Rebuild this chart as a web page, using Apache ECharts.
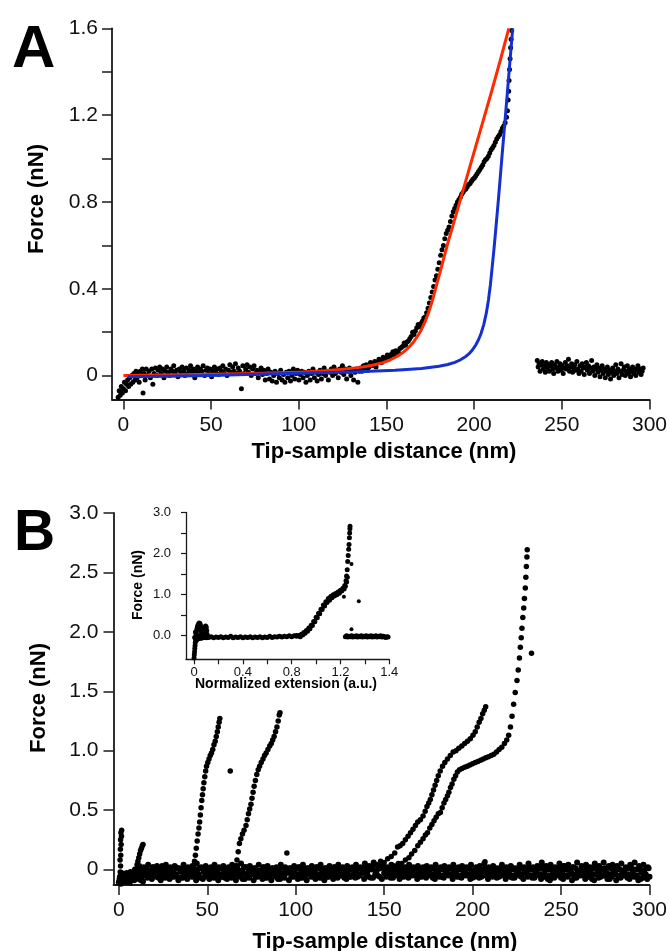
<!DOCTYPE html>
<html><head><meta charset="utf-8">
<script src="https://cdn.jsdelivr.net/npm/echarts@6/dist/echarts.min.js"></script>
<style>html,body{margin:0;padding:0;background:#fff}#c{width:670px;height:951px}</style>
</head><body><div id="c"></div>
<script>
// ---------- Panel A data ----------
const aXTickValues = [0, 50, 100, 150, 200, 250, 300];
const aXTickLabels = ['0', '50', '100', '150', '200', '250', '300'];
const aYTickValues = [0, 0.2, 0.4, 0.6, 0.8, 1.0, 1.2, 1.4, 1.6];
const aYLabelValues = [0, 0.4, 0.8, 1.2, 1.6];
const aYLabelTexts = ['0', '0.4', '0.8', '1.2', '1.6'];

const aBaseline = [[-3,-0.10],[-2.4,-0.07],[-1.8,-0.09],[-1.2,-0.05],[-0.6,-0.08],[0,-0.06],[0.6,-0.03],[1.2,-0.07],[1.8,-0.04],[2.4,-0.02],[3,-0.05],[3.6,-0.01],[4.2,-0.04],[4.8,0.0],[5.4,-0.03],[6,0.01],[6.6,-0.02],[7.2,0.02],[7.8,-0.01],[8.4,0.01],[9,-0.03],[9.6,0.02],[10.2,0.0],[10.8,0.03],[11.2,-0.08],[11.8,0.01],[12.4,-0.02],[13,0.03],[13.8,0.0],[14.6,0.02],[15.4,-0.01],[16.2,0.03],[16.8,-0.04],[17.5,0.01],[18.3,0.035],[19.1,0.0],[19.9,0.025],[20.7,0.04],[21.5,0.01],[22.3,0.03],[23.1,-0.01],[23.9,0.02],[24.7,0.04],[25.5,0.015],[26.3,0.0],[27.1,0.03],[27.9,0.02],[28.7,0.045],[29.5,0.01],[30.3,0.025],[31.1,-0.005],[31.9,0.03],[32.7,0.015],[33.5,0.04],[34.3,0.02],[35.1,0.0],[35.9,0.035],[36.7,0.01],[37.5,0.025],[38.3,0.045],[39.1,0.015],[39.9,0.03],[40.7,-0.01],[41.5,0.02],[42.3,0.04],[43.1,0.01],[43.9,0.03],[44.7,0.02],[45.5,0.045],[46.3,0.0],[47.1,0.025],[47.9,0.035],[48.7,0.01],[49.5,0.03],[50.3,-0.005],[51.1,0.02],[51.9,0.04],[52.7,0.015],[53.5,0.03],[54.3,0.005],[55.1,0.035],[55.9,0.02],[56.7,0.045],[57.5,0.01],[58.3,0.03],[59.1,0.0],[59.9,0.025],[60.7,0.05],[61.5,0.015],[62.3,0.04],[63.1,0.02],[63.9,0.055],[64.7,0.01],[65.5,0.035],[66.3,0.02],[67.3,-0.06],[68.1,0.045],[68.9,0.01],[69.7,0.03],[70.5,0.05],[71.3,0.015],[72.1,0.04],[72.9,0.0],[73.7,0.03],[74.5,0.045],[75.3,0.01],[76.1,0.025],[76.9,-0.01],[77.7,0.02],[78.5,0.035],[79.3,0.005],[80.1,0.025],[80.9,-0.02],[81.7,0.01],[82.5,0.03],[83.3,-0.015],[84.1,0.015],[84.9,-0.025],[85.7,0.0],[86.5,0.02],[87.3,-0.03],[88.1,0.01],[88.9,-0.01],[89.7,0.025],[90.5,-0.02],[91.3,0.005],[92.1,-0.03],[92.9,0.015],[93.7,-0.01],[94.5,0.02],[95.3,-0.025],[96.1,0.0],[96.9,0.03],[97.7,-0.015],[98.5,0.01],[99.3,0.025],[100.1,-0.02],[100.9,0.005],[101.7,0.02],[102.5,-0.01],[103.3,0.015],[104.1,-0.03],[104.9,0.0],[105.7,0.02],[106.5,-0.02],[107.3,0.01],[108.1,0.03],[108.9,-0.01],[109.7,0.015],[110.5,-0.025],[111.3,0.005],[112.1,0.025],[112.9,-0.015],[113.7,0.01],[114.5,0.035],[115.3,0.0],[116.1,0.02],[116.9,-0.02],[117.7,0.015],[118.5,0.03],[119.3,0.0],[120.1,0.04],[120.9,0.01],[121.7,0.025],[122.5,-0.01],[123.3,0.03],[124.1,0.015],[124.9,0.045],[125.7,0.005],[126.5,0.03],[127.3,-0.015],[128.1,0.02],[128.9,0.035],[129.7,0.0],[130.5,0.025],[131.3,-0.02],[132.1,0.015],[132.9,0.03],[133.7,-0.03],[134.5,0.02]];

const aRiseRow1 = [[135.3,0.035],[136.9,0.045],[138.5,0.05],[140.1,0.04],[141.7,0.05],[143.3,0.065],[144.9,0.06],[146.5,0.07],[148.1,0.085],[149.7,0.08],[151.3,0.09],[152.9,0.1],[154.5,0.095],[156.1,0.11],[157.7,0.125],[159.3,0.135],[160.9,0.14],[162.5,0.16],[164.1,0.18],[165.7,0.19],[167.3,0.22],[168.9,0.225],[170.5,0.25],[172.1,0.27],[173.7,0.31],[175.3,0.36],[176.9,0.41],[178.5,0.46],[180.1,0.52],[181.7,0.58],[183.3,0.63],[184.9,0.67],[186.5,0.71],[188.1,0.755],[189.7,0.785],[191.3,0.81],[192.9,0.835],[194.5,0.855],[196.1,0.87],[197.7,0.885],[199.3,0.905],[200.9,0.92],[202.5,0.94],[204.1,0.96],[205.7,0.985],[207.3,1.0],[208.9,1.025],[210.5,1.05],[212.1,1.075],[213.7,1.1],[215.3,1.125],[216.9,1.15],[218.5,1.19],[219.4,1.27],[219.9,1.36],[220.5,1.46],[221.1,1.55]];
const aRiseRow2 = [[136.1,0.02],[137.7,0.03],[139.3,0.025],[140.9,0.06],[142.5,0.045],[144.1,0.04],[145.7,0.075],[147.3,0.06],[148.9,0.07],[150.5,0.095],[152.1,0.085],[153.7,0.11],[155.3,0.115],[156.9,0.105],[158.5,0.13],[160.1,0.15],[161.7,0.155],[163.3,0.17],[164.9,0.2],[166.5,0.205],[168.1,0.235],[169.7,0.24],[171.3,0.265],[172.9,0.29],[174.5,0.335],[176.1,0.385],[177.7,0.44],[179.3,0.49],[180.9,0.555],[182.5,0.6],[184.1,0.655],[185.7,0.685],[187.3,0.735],[188.9,0.77],[190.5,0.8],[192.1,0.82],[193.7,0.845],[195.3,0.86],[196.9,0.88],[198.5,0.895],[200.1,0.91],[201.7,0.93],[203.3,0.95],[204.9,0.97],[206.5,0.995],[208.1,1.01],[209.7,1.04],[211.3,1.06],[212.9,1.09],[214.5,1.11],[216.1,1.14],[217.7,1.165],[219.0,1.22],[219.7,1.31],[220.2,1.41],[220.8,1.51],[221.4,1.59]];

const aDetached = [[236,0.07],[236.5,0.04],[237,0.055],[237.6,0.02],[238.2,0.05],[238.8,0.065],[239.4,0.03],[240,0.045],[240.6,0.015],[241.2,0.06],[241.8,0.035],[242.4,0.05],[243,0.02],[243.6,0.045],[244.2,0.06],[244.8,0.03],[245.4,0.01],[246,0.05],[246.6,0.035],[247.2,0.065],[247.8,0.02],[248.4,0.04],[249,0.055],[249.6,0.025],[250.2,0.045],[250.8,0.01],[251.4,0.035],[252,0.06],[252.6,0.03],[253.2,0.045],[253.8,0.075],[254.4,0.02],[255,0.04],[255.6,0.055],[256.2,0.015],[256.8,0.035],[257.4,0.05],[258,0.025],[258.6,0.065],[259.2,0.03],[259.8,0.01],[260.4,0.045],[261,0.02],[261.6,0.055],[262.2,0.035],[262.8,0.005],[263.4,0.04],[264,0.06],[264.6,0.025],[265.2,0.045],[265.8,0.01],[266.4,0.035],[267,0.07],[267.6,0.02],[268.2,0.04],[268.8,0.0],[269.4,0.03],[270,0.05],[270.6,0.015],[271.2,0.035],[271.8,-0.005],[272.4,0.025],[273,0.045],[273.6,0.01],[274.2,0.03],[274.8,-0.01],[275.4,0.02],[276,0.04],[276.6,0.005],[277.2,0.025],[277.8,-0.015],[278.4,0.015],[279,0.035],[279.6,0.0],[280.2,0.02],[280.8,0.05],[281.4,0.01],[282,0.03],[282.6,-0.01],[283.2,0.02],[283.8,0.055],[284.4,0.005],[285,0.025],[285.6,0.04],[286.2,0.0],[286.8,0.02],[287.4,0.045],[288,0.01],[288.6,0.03],[289.2,-0.005],[289.8,0.02],[290.4,0.04],[291,0.01],[291.6,0.03],[292.2,0.0],[292.8,0.025],[293.4,0.045],[294,0.015],[294.6,0.03],[295.2,0.005],[295.8,0.02],[296.4,0.035]];

const aRedFit = [[0,0.0],[25,0.003],[50,0.006],[75,0.01],[100,0.016],[115,0.022],[125,0.029],[135,0.038],[142,0.048],[148,0.06],[152,0.072],[156,0.088],[159,0.104],[162,0.124],[165,0.15],[168,0.185],[170,0.213],[172,0.248],[174,0.29],[176,0.34],[178,0.4],[180,0.46],[182,0.52],[185,0.61],[190,0.75],[195,0.89],[200,1.03],[205,1.17],[210,1.31],[215,1.455],[219.8,1.6]];
const aBlueFit = [[2.5,-0.005],[25,-0.003],[50,0.001],[75,0.006],[100,0.011],[130,0.017],[155,0.025],[170,0.033],[180,0.043],[185,0.051],[189,0.061],[192,0.072],[195,0.087],[197,0.1],[199,0.118],[201,0.142],[202.5,0.165],[204,0.195],[205.5,0.235],[207,0.29],[208.2,0.35],[209.3,0.42],[210.3,0.5],[211.3,0.58],[212.3,0.67],[213.3,0.76],[214.3,0.855],[216,1.02],[218,1.21],[220,1.405],[222,1.6]];

// ---------- Panel B data ----------
const bXTickValues = [0, 50, 100, 150, 200, 250, 300];
const bXTickLabels = ['0', '50', '100', '150', '200', '250', '300'];
const bYTickValues = [0, 0.5, 1.0, 1.5, 2.0, 2.5, 3.0];
const bYTickLabels = ['0', '0.5', '1.0', '1.5', '2.0', '2.5', '3.0'];

const bBaseLow = [[0,-0.11],[2.5,-0.09],[5,-0.1],[7.5,-0.08],[10,-0.07],[12.5,-0.09],[15,-0.05],[17.5,-0.06],[20,-0.04],[22.5,-0.07],[25,-0.05],[27.5,-0.03],[30,-0.06],[32.5,-0.04],[35,-0.07],[37.5,-0.05],[40,-0.03],[42.5,-0.06],[45,-0.04],[47.5,-0.08],[50,-0.05],[52.5,-0.03],[55,-0.06],[57.5,-0.04],[60,-0.07],[62.5,-0.05],[65,-0.06],[67.5,-0.03],[70,-0.08],[72.5,-0.05],[75,-0.04],[77.5,-0.06],[80,-0.03],[82.5,-0.07],[85,-0.05],[87.5,-0.04],[90,-0.08],[92.5,-0.05],[95,-0.03],[97.5,-0.06],[100,-0.04],[102.5,-0.07],[105,-0.05],[107.5,-0.03],[110,-0.06],[112.5,-0.04],[115,-0.07],[117.5,-0.05],[120,-0.04],[122.5,-0.06],[125,-0.03],[127.5,-0.07],[130,-0.05],[132.5,-0.04],[135,-0.06],[137.5,-0.03],[140,-0.05],[142.5,-0.07],[145,-0.04],[147.5,-0.06],[150,-0.03],[152.5,-0.05],[155,-0.07],[157.5,-0.04],[160,-0.06],[162.5,-0.03],[165,-0.05],[167.5,-0.04],[170,-0.06],[172.5,-0.03],[175,-0.05],[177.5,-0.07],[180,-0.04],[182.5,-0.06],[185,-0.03],[187.5,-0.05],[190,-0.04],[192.5,-0.06],[195,-0.03],[197.5,-0.05],[200,-0.07],[202.5,-0.04],[205,-0.06],[207.5,-0.03],[210,-0.05],[212.5,-0.04],[215,-0.06],[217.5,-0.03],[220,-0.05],[222.5,-0.07],[225,-0.04],[227.5,-0.06],[230,-0.03],[232.5,-0.05],[235,-0.07],[237.5,-0.04],[240,-0.06],[242.5,-0.08],[245,-0.05],[247.5,-0.03],[250,-0.07],[252.5,-0.05],[255,-0.04],[257.5,-0.07],[260,-0.05],[262.5,-0.03],[265,-0.06],[267.5,-0.08],[270,-0.04],[272.5,-0.06],[275,-0.05],[277.5,-0.08],[280,-0.04],[282.5,-0.06],[285,-0.05],[287.5,-0.07],[290,-0.04],[292.5,-0.06],[295,-0.08],[297.5,-0.05],[300,-0.06]];
const bBaseMid = [[0.8,-0.06],[3.3,-0.04],[5.8,-0.07],[8.3,-0.03],[10.8,-0.01],[13.3,-0.02],[15.8,0.0],[18.3,-0.02],[20.8,0.01],[23.3,-0.01],[25.8,-0.03],[28.3,0.0],[30.8,-0.02],[33.3,0.01],[35.8,-0.01],[38.3,-0.03],[40.8,0.0],[43.3,-0.02],[45.8,0.01],[48.3,-0.01],[50.8,-0.02],[53.3,0.0],[55.8,-0.03],[58.3,0.01],[60.8,-0.01],[63.3,-0.02],[65.8,0.0],[68.3,-0.01],[70.8,0.02],[73.3,-0.02],[75.8,0.0],[78.3,-0.03],[80.8,-0.01],[83.3,0.01],[85.8,-0.02],[88.3,0.0],[90.8,-0.01],[93.3,-0.03],[95.8,0.0],[98.3,-0.02],[100.8,0.01],[103.3,-0.01],[105.8,-0.03],[108.3,0.0],[110.8,-0.02],[113.3,0.01],[115.8,-0.01],[118.3,-0.02],[120.8,0.0],[123.3,-0.01],[125.8,0.01],[128.3,-0.02],[130.8,0.0],[133.3,-0.01],[135.8,0.01],[138.3,-0.02],[140.8,0.0],[143.3,0.01],[145.8,-0.01],[148.3,0.02],[150.8,-0.01],[153.3,0.0],[155.8,-0.02],[158.3,0.01],[160.8,-0.01],[163.3,0.0],[165.8,-0.02],[168.3,0.01],[170.8,-0.01],[173.3,0.0],[175.8,-0.02],[178.3,0.01],[180.8,-0.01],[183.3,0.0],[185.8,-0.02],[188.3,0.01],[190.8,-0.01],[193.3,0.0],[195.8,-0.02],[198.3,0.01],[200.8,-0.01],[203.3,0.0],[205.8,-0.02],[208.3,0.01],[210.8,-0.01],[213.3,0.0],[215.8,-0.02],[218.3,0.01],[220.8,-0.01],[223.3,0.0],[225.8,-0.02],[228.3,0.01],[230.8,-0.01],[233.3,0.0],[235.8,-0.03],[238.3,0.01],[240.8,-0.01],[243.3,0.0],[245.8,-0.02],[248.3,0.01],[250.8,-0.01],[253.3,0.0],[255.8,-0.03],[258.3,0.01],[260.8,-0.02],[263.3,0.0],[265.8,-0.01],[268.3,0.01],[270.8,-0.02],[273.3,0.0],[275.8,-0.03],[278.3,0.01],[280.8,-0.01],[283.3,0.0],[285.8,-0.02],[288.3,0.01],[290.8,-0.01],[293.3,0.0],[295.8,-0.03],[298.3,0.01]];
const bBaseHigh = [[1.6,-0.03],[4.1,-0.05],[6.6,-0.02],[9.1,0.0],[11.6,0.03],[14.1,0.02],[16.6,0.04],[19.1,0.02],[21.6,0.03],[24.1,0.01],[26.6,0.04],[29.1,0.02],[31.6,0.03],[34.1,0.01],[36.6,0.04],[39.1,0.02],[41.6,0.03],[44.1,0.05],[46.6,0.02],[49.1,0.03],[51.6,0.01],[54.1,0.04],[56.6,0.02],[59.1,0.03],[61.6,0.01],[64.1,0.04],[66.6,0.03],[69.1,0.05],[71.6,0.02],[74.1,0.03],[76.6,0.01],[79.1,0.04],[81.6,0.02],[84.1,0.03],[86.6,0.01],[89.1,0.02],[91.6,0.04],[94.1,0.02],[96.6,0.01],[99.1,0.03],[101.6,0.02],[104.1,0.04],[106.6,0.01],[109.1,0.03],[111.6,0.02],[114.1,0.04],[116.6,0.01],[119.1,0.03],[121.6,0.02],[124.1,0.04],[126.6,0.02],[129.1,0.03],[131.6,0.01],[134.1,0.04],[136.6,0.02],[139.1,0.05],[141.6,0.03],[144.1,0.06],[146.6,0.03],[149.1,0.05],[151.6,0.02],[154.1,0.04],[156.6,0.02],[159.1,0.03],[161.6,0.01],[164.1,0.04],[166.6,0.02],[169.1,0.03],[171.6,0.01],[174.1,0.03],[176.6,0.02],[179.1,0.04],[181.6,0.01],[184.1,0.03],[186.6,0.02],[189.1,0.04],[191.6,0.01],[194.1,0.03],[196.6,0.02],[199.1,0.04],[201.6,0.01],[204.1,0.03],[206.6,0.05],[209.1,0.02],[211.6,0.03],[214.1,0.01],[216.6,0.04],[219.1,0.02],[221.6,0.03],[224.1,0.01],[226.6,0.04],[229.1,0.02],[231.6,0.05],[234.1,0.02],[236.6,0.03],[239.1,0.06],[241.6,0.03],[244.1,0.04],[246.6,0.02],[249.1,0.05],[251.6,0.03],[254.1,0.04],[256.6,0.02],[259.1,0.06],[261.6,0.03],[264.1,0.04],[266.6,0.02],[269.1,0.05],[271.6,0.03],[274.1,0.06],[276.6,0.02],[279.1,0.04],[281.6,0.03],[284.1,0.05],[286.6,0.02],[289.1,0.04],[291.6,0.06],[294.1,0.03],[296.6,0.04],[299.1,0.02]];
const bBaseLower = [[1.2,-0.12],[3.7,-0.1],[6.2,-0.11],[8.7,-0.09],[11.2,-0.08],[13.7,-0.1],[16.2,-0.07],[18.7,-0.08],[21.2,-0.06],[23.7,-0.09],[26.2,-0.07],[28.7,-0.08],[31.2,-0.06],[33.7,-0.09],[36.2,-0.07],[38.7,-0.08],[41.2,-0.06],[43.7,-0.09],[46.2,-0.07],[48.7,-0.06],[51.2,-0.08],[53.7,-0.07],[56.2,-0.09],[58.7,-0.06],[61.2,-0.08],[63.7,-0.07],[66.2,-0.09],[68.7,-0.06],[71.2,-0.08],[73.7,-0.07],[76.2,-0.09],[78.7,-0.06],[81.2,-0.08],[83.7,-0.07],[86.2,-0.09],[88.7,-0.06],[91.2,-0.08],[93.7,-0.07],[96.2,-0.09],[98.7,-0.06],[101.2,-0.08],[103.7,-0.07],[106.2,-0.09],[108.7,-0.06],[111.2,-0.08],[113.7,-0.07],[116.2,-0.09],[118.7,-0.06],[121.2,-0.08],[123.7,-0.07],[126.2,-0.05],[128.7,-0.08],[131.2,-0.06],[133.7,-0.07],[136.2,-0.05],[138.7,-0.08],[141.2,-0.06],[143.7,-0.07],[146.2,-0.05],[148.7,-0.08],[151.2,-0.06],[153.7,-0.07],[156.2,-0.05],[158.7,-0.08],[161.2,-0.06],[163.7,-0.07],[166.2,-0.05],[168.7,-0.08],[171.2,-0.06],[173.7,-0.07],[176.2,-0.05],[178.7,-0.08],[181.2,-0.06],[183.7,-0.07],[186.2,-0.05],[188.7,-0.08],[191.2,-0.06],[193.7,-0.07],[196.2,-0.05],[198.7,-0.08],[201.2,-0.06],[203.7,-0.07],[206.2,-0.05],[208.7,-0.08],[211.2,-0.06],[213.7,-0.07],[216.2,-0.05],[218.7,-0.08],[221.2,-0.06],[223.7,-0.07],[226.2,-0.05],[228.7,-0.08],[231.2,-0.06],[233.7,-0.07],[236.2,-0.05],[238.7,-0.08],[241.2,-0.06],[243.7,-0.09],[246.2,-0.07],[248.7,-0.05],[251.2,-0.08],[253.7,-0.06],[256.2,-0.09],[258.7,-0.07],[261.2,-0.05],[263.7,-0.08],[266.2,-0.06],[268.7,-0.09],[271.2,-0.07],[273.7,-0.05],[276.2,-0.08],[278.7,-0.06],[281.2,-0.09],[283.7,-0.07],[286.2,-0.05],[288.7,-0.08],[291.2,-0.06],[293.7,-0.09],[296.2,-0.07],[298.7,-0.08]];
const bBaseCentre = [[2,-0.06],[4.5,-0.03],[7,-0.05],[9.5,-0.02],[12,0.0],[14.5,0.01],[17,-0.01],[19.5,0.02],[22,0.0],[24.5,0.03],[27,0.01],[29.5,-0.01],[32,0.02],[34.5,0.0],[37,0.01],[39.5,-0.01],[42,0.02],[44.5,0.0],[47,0.01],[49.5,-0.01],[52,0.02],[54.5,0.0],[57,0.01],[59.5,-0.01],[62,0.02],[64.5,0.0],[67,0.01],[69.5,-0.01],[72,0.02],[74.5,0.0],[77,0.01],[79.5,-0.01],[82,0.02],[84.5,0.0],[87,0.01],[89.5,-0.01],[92,0.02],[94.5,0.0],[97,0.01],[99.5,-0.01],[102,0.02],[104.5,0.0],[107,0.01],[109.5,-0.01],[112,0.02],[114.5,0.0],[117,0.01],[119.5,-0.01],[122,0.02],[124.5,0.0],[127,0.01],[129.5,-0.01],[132,0.02],[134.5,0.0],[137,0.01],[139.5,0.03],[142,0.02],[144.5,0.04],[147,0.01],[149.5,0.03],[152,0.0],[154.5,0.02],[157,0.01],[159.5,-0.01],[162,0.02],[164.5,0.0],[167,0.01],[169.5,-0.01],[172,0.02],[174.5,0.0],[177,0.01],[179.5,-0.01],[182,0.02],[184.5,0.0],[187,0.01],[189.5,-0.01],[192,0.02],[194.5,0.0],[197,0.01],[199.5,-0.01],[202,0.02],[204.5,0.0],[207,0.01],[209.5,-0.01],[212,0.02],[214.5,0.0],[217,0.01],[219.5,-0.01],[222,0.02],[224.5,0.0],[227,0.01],[229.5,-0.01],[232,0.02],[234.5,0.0],[237,0.01],[239.5,0.03],[242,0.0],[244.5,0.02],[247,-0.01],[249.5,0.01],[252,0.03],[254.5,0.0],[257,0.02],[259.5,-0.01],[262,0.01],[264.5,0.03],[267,0.0],[269.5,0.02],[272,-0.01],[274.5,0.01],[277,0.03],[279.5,0.0],[282,0.02],[284.5,-0.01],[287,0.01],[289.5,0.03],[292,0.0],[294.5,0.02],[297,-0.01],[299.5,0.01]];
const bBaseFill = [[0.4,-0.08],[2.9,-0.07],[5.4,-0.09],[7.9,-0.05],[10.4,-0.04],[12.9,-0.06],[15.4,-0.03],[17.9,-0.04],[20.4,-0.02],[22.9,-0.04],[25.4,-0.01],[27.9,-0.05],[30.4,-0.03],[32.9,-0.06],[35.4,-0.02],[37.9,-0.04],[40.4,-0.05],[42.9,-0.03],[45.4,-0.06],[47.9,-0.02],[50.4,-0.04],[52.9,-0.05],[55.4,-0.02],[57.9,-0.06],[60.4,-0.03],[62.9,-0.04],[65.4,-0.02],[67.9,-0.05],[70.4,-0.03],[72.9,-0.06],[75.4,-0.02],[77.9,-0.04],[80.4,-0.05],[82.9,-0.03],[85.4,-0.06],[87.9,-0.02],[90.4,-0.04],[92.9,-0.05],[95.4,-0.02],[97.9,-0.04],[100.4,-0.06],[102.9,-0.03],[105.4,-0.05],[107.9,-0.02],[110.4,-0.04],[112.9,-0.05],[115.4,-0.03],[117.9,-0.06],[120.4,-0.02],[122.9,-0.04],[125.4,-0.05],[127.9,-0.03],[130.4,-0.06],[132.9,-0.02],[135.4,-0.04],[137.9,-0.01],[140.4,-0.03],[142.9,0.0],[145.4,-0.02],[147.9,0.01],[150.4,-0.03],[152.9,-0.01],[155.4,-0.04],[157.9,-0.02],[160.4,-0.03],[162.9,-0.05],[165.4,-0.02],[167.9,-0.04],[170.4,-0.03],[172.9,-0.05],[175.4,-0.02],[177.9,-0.04],[180.4,-0.03],[182.9,-0.05],[185.4,-0.02],[187.9,-0.04],[190.4,-0.03],[192.9,-0.05],[195.4,-0.02],[197.9,-0.04],[200.4,-0.03],[202.9,-0.05],[205.4,-0.02],[207.9,-0.04],[210.4,-0.03],[212.9,-0.05],[215.4,-0.02],[217.9,-0.04],[220.4,-0.03],[222.9,-0.05],[225.4,-0.02],[227.9,-0.04],[230.4,-0.03],[232.9,-0.05],[235.4,-0.02],[237.9,-0.04],[240.4,-0.03],[242.9,-0.05],[245.4,-0.02],[247.9,-0.04],[250.4,-0.03],[252.9,-0.05],[255.4,-0.02],[257.9,-0.04],[260.4,-0.03],[262.9,-0.05],[265.4,-0.02],[267.9,-0.04],[270.4,-0.03],[272.9,-0.05],[275.4,-0.02],[277.9,-0.04],[280.4,-0.03],[282.9,-0.05],[285.4,-0.02],[287.9,-0.04],[290.4,-0.03],[292.9,-0.05],[295.4,-0.02],[297.9,-0.04]];

const bSpike1 = [[0.2,-0.1],[0.5,-0.06],[0.8,-0.02],[1.0,0.03],[0.7,0.08],[1.1,0.12],[0.9,0.17],[1.3,0.21],[1.0,0.25],[1.5,0.28],[1.2,0.31],[1.6,0.33]];
const bSpike2 = [[9.8,0.0],[10.3,0.04],[10.8,0.07],[11.3,0.1],[11.8,0.13],[12.3,0.16],[12.8,0.18],[13.3,0.2],[13.7,0.21]];
const bCurve1 = [[41.5,0.0],[42.2,0.03],[42.8,0.07],[43.3,0.12],[43.8,0.18],[44.3,0.24],[44.8,0.3],[45.3,0.35],[45.7,0.4],[46.1,0.46],[46.5,0.52],[46.9,0.58],[47.3,0.63],[47.7,0.68],[48.1,0.73],[48.6,0.78],[49.1,0.83],[49.6,0.87],[50.3,0.9],[51,0.93],[51.7,0.96],[52.4,0.98],[53.1,1.01],[53.8,1.05],[54.5,1.08],[55.1,1.12],[55.7,1.16],[56.2,1.2],[56.7,1.24],[57.1,1.27]];
const bCurve2 = [[66,0.03],[66.8,0.08],[67.5,0.15],[68.2,0.22],[69,0.26],[69.9,0.3],[70.8,0.33],[71.9,0.37],[72.6,0.42],[73.3,0.47],[74,0.51],[74.7,0.55],[75.3,0.6],[75.9,0.65],[76.5,0.7],[77.2,0.75],[78,0.8],[78.8,0.84],[79.6,0.87],[80.5,0.9],[81.5,0.93],[82.4,0.96],[83.3,0.98],[84.3,1.01],[85.3,1.04],[86.2,1.06],[87,1.09],[87.8,1.12],[88.6,1.16],[89.4,1.2],[90.1,1.25],[90.7,1.3],[91.1,1.32]];
const bCurve3 = [[146,0.04],[148,0.07],[150,0.06],[152,0.09],[154,0.11],[156,0.14],[157.6,0.19],[159,0.2],[160.5,0.22],[162,0.25],[163.5,0.28],[164.9,0.31],[166.3,0.34],[167.7,0.37],[169,0.4],[170.5,0.42],[172,0.45],[173.2,0.49],[174.2,0.53],[175.2,0.56],[176.1,0.59],[177,0.63],[177.9,0.67],[178.8,0.71],[179.7,0.75],[180.6,0.79],[181.7,0.83],[183,0.87],[184.3,0.9],[185.8,0.93],[187.4,0.96],[189,0.99],[190.6,1.0],[192.2,1.02],[193.9,1.04],[195.5,1.06],[197.1,1.08],[198.7,1.1],[200.2,1.13],[201.5,1.16],[202.6,1.2],[203.7,1.24],[204.7,1.27],[205.7,1.31],[206.6,1.34],[207.4,1.37]];
const bCurve4 = [[156,0.03],[158,0.05],[160,0.05],[162,0.08],[164,0.1],[165.5,0.13],[167.3,0.16],[169,0.2],[170.5,0.23],[172,0.26],[173.3,0.29],[174.5,0.31],[175.8,0.35],[177,0.38],[178.2,0.41],[179.4,0.44],[180.6,0.47],[181.8,0.48],[182.8,0.52],[183.8,0.56],[184.8,0.59],[185.8,0.62],[186.6,0.65],[187.5,0.69],[188.4,0.72],[189.4,0.76],[190.4,0.79],[191.4,0.82],[192.6,0.84],[194,0.85],[195.5,0.86],[197,0.87],[198.5,0.88],[200,0.89],[201.5,0.9],[203,0.91],[204.5,0.92],[206,0.93],[207.5,0.94],[209,0.95],[210.5,0.96],[212,0.97],[213.5,0.99],[215,1.01],[216.5,1.03],[218,1.06],[219.3,1.09],[220.4,1.13],[221.4,1.2],[222.3,1.29],[223.2,1.39],[224.1,1.49],[225.1,1.59],[225.8,1.68],[226.5,1.78],[227,1.87],[227.5,1.95],[227.9,2.03],[228.4,2.12],[228.9,2.2],[229.3,2.28],[229.8,2.37],[230.1,2.46],[230.4,2.55],[230.7,2.63],[230.9,2.69]];
const bOutliers = [[63,0.83],[95,0.14],[233.3,1.82],[207,0.065]];

// ---------- Inset data ----------
const iXTickValues = [0, 0.2, 0.4, 0.6, 0.8, 1.0, 1.2, 1.4, 1.6];
const iXLabelValues = [0, 0.4, 0.8, 1.2, 1.6];
const iXLabelTexts = ['0', '0.4', '0.8', '1.2', '1.4'];
const iYTickValues = [0, 0.5, 1.0, 1.5, 2.0, 2.5, 3.0];
const iYLabelValues = [0, 1, 2, 3];
const iYLabelTexts = ['0.0', '1.0', '2.0', '3.0'];

const iSpike = [[0.0,-0.55],[0.002,-0.47],[0.004,-0.4],[0.006,-0.32],[0.008,-0.25],[0.01,-0.18],[0.012,-0.1],[0.014,-0.03],[0.016,0.04],[0.02,0.1],[0.024,0.16],[0.028,0.21],[0.032,0.25],[0.037,0.28],[0.042,0.3],[0.048,0.29],[0.052,0.25],[0.055,0.18],[0.058,0.1],[0.061,0.02],[0.064,-0.04],[0.07,-0.06],[0.076,0.02],[0.08,0.1],[0.085,0.17],[0.09,0.21],[0.095,0.23],[0.1,0.2],[0.104,0.12],[0.107,0.03],[0.11,-0.04],[0.005,-0.05],[0.012,0.08],[0.02,-0.12],[0.03,0.0],[0.04,-0.08]];
const iBase1 = [[0.02,-0.06],[0.04,-0.05],[0.06,-0.07],[0.08,-0.05],[0.1,-0.06],[0.12,-0.05],[0.14,-0.03],[0.16,-0.06],[0.18,-0.04],[0.2,-0.05],[0.22,-0.03],[0.24,-0.06],[0.26,-0.04],[0.28,-0.05],[0.3,-0.02],[0.32,-0.06],[0.34,-0.04],[0.36,-0.05],[0.38,-0.03],[0.4,-0.06],[0.42,-0.04],[0.44,-0.05],[0.46,-0.03],[0.48,-0.06],[0.5,-0.04],[0.52,-0.05],[0.54,-0.03],[0.56,-0.06],[0.58,-0.04],[0.6,-0.05],[0.62,-0.02],[0.64,-0.05],[0.66,-0.03],[0.68,-0.04],[0.7,-0.02],[0.72,-0.04],[0.74,-0.02],[0.76,-0.03],[0.78,-0.01],[0.8,-0.03],[0.82,-0.01],[0.84,0.0]];
const iRise = [[0.84,-0.02],[0.86,0.0],[0.88,0.03],[0.9,0.07],[0.92,0.12],[0.94,0.18],[0.96,0.25],[0.98,0.34],[1.0,0.44],[1.02,0.54],[1.04,0.64],[1.06,0.74],[1.08,0.82],[1.1,0.9],[1.12,0.95],[1.14,0.99],[1.16,1.02],[1.18,1.06],[1.2,1.1],[1.22,1.15],[1.235,1.22],[1.245,1.33],[1.25,1.45],[1.255,1.6],[1.259,1.8],[1.263,1.95],[1.267,2.1],[1.27,2.22],[1.273,2.38],[1.275,2.5],[1.277,2.6],[1.278,2.66],
  [0.87,-0.03],[0.89,0.01],[0.91,0.05],[0.93,0.1],[0.95,0.16],[0.97,0.24],[0.99,0.33],[1.01,0.43],[1.03,0.53],[1.05,0.63],[1.07,0.72],[1.09,0.8],[1.11,0.86],[1.13,0.92],[1.15,0.96],[1.17,0.99],[1.19,1.03],[1.21,1.08],[1.23,1.13],[1.24,1.2],[1.25,1.3],[1.256,1.42]];
const iBase2 = [[1.24,-0.03],[1.25,-0.01],[1.26,-0.04],[1.27,-0.02],[1.28,-0.03],[1.29,-0.01],[1.3,-0.04],[1.31,-0.02],[1.32,-0.03],[1.33,-0.01],[1.34,-0.04],[1.35,-0.02],[1.36,-0.03],[1.37,-0.01],[1.38,-0.04],[1.39,-0.02],[1.4,-0.03],[1.41,-0.01],[1.42,-0.04],[1.43,-0.02],[1.44,-0.03],[1.45,-0.01],[1.46,-0.04],[1.47,-0.02],[1.48,-0.03],[1.49,-0.01],[1.5,-0.04],[1.51,-0.02],[1.52,-0.03],[1.53,-0.01],[1.54,-0.04],[1.55,-0.02],[1.56,-0.03],[1.57,-0.05],[1.58,-0.03],[1.59,-0.04]];
const iOutliers = [[1.29,1.74],[1.35,0.83],[1.29,0.15],[1.228,0.94]];

// ---------- rendering ----------
const FONT = "'Liberation Sans', Arial, Helvetica, sans-serif";
function lookup(vals, texts) {
  return function (v) {
    for (let i = 0; i < vals.length; i++) if (Math.abs(vals[i] - v) < 1e-9) return texts[i];
    return '';
  };
}
function axis(o) {
  return {
    type: 'value', gridIndex: o.grid, min: o.min, max: o.max,
    axisLine: { show: true, onZero: false, lineStyle: { color: '#1a1a1a', width: o.lw } },
    axisTick: { show: true, inside: false, length: o.tl, customValues: o.ticks, lineStyle: { color: '#1a1a1a', width: o.tw } },
    axisLabel: { show: true, customValues: o.lv, formatter: lookup(o.lv, o.lt), margin: o.margin,
      fontSize: o.fs, fontFamily: FONT, color: '#111' },
    splitLine: { show: false }, minorTick: { show: false }
  };
}
function dots(xi, data, size) {
  return { type: 'scatter', xAxisIndex: xi, yAxisIndex: xi, data: data, symbol: 'circle',
    symbolSize: size, itemStyle: { color: '#000', opacity: 1 }, silent: true, z: 2 };
}
function txt(x, y, text, font, rot) {
  return { type: 'text', x: x, y: y, rotation: rot || 0, silent: true,
    style: { text: text, font: font, fill: '#000', align: 'center', verticalAlign: 'middle' } };
}
function fitLine(data, color, z) {
  return { type: 'line', xAxisIndex: 0, yAxisIndex: 0, data: data, symbol: 'none', smooth: false,
    lineStyle: { color: color, width: 3, join: 'round', cap: 'butt' }, silent: true, z: z };
}

const chart = echarts.init(document.getElementById('c'), null, { renderer: 'canvas' });
chart.setOption({
  animation: false,
  backgroundColor: '#fff',
  grid: [
    { left: 112, top: 28.3, width: 544, height: 371.2 },
    { left: 113.5, top: 513, width: 537.5, height: 372 },
    { left: 186, top: 512.4, width: 203.3, height: 146.9 }
  ],
  xAxis: [
    axis({ grid: 0, min: -6.5, max: 300, ticks: aXTickValues, lv: aXTickValues, lt: aXTickLabels, margin: 15, fs: 21, tl: 10, lw: 1.8, tw: 1.5 }),
    axis({ grid: 1, min: -3, max: 300, ticks: bXTickValues, lv: bXTickValues, lt: bXTickLabels, margin: 15, fs: 21, tl: 10, lw: 1.8, tw: 1.5 }),
    axis({ grid: 2, min: -0.066, max: 1.6, ticks: iXTickValues, lv: iXLabelValues, lt: iXLabelTexts, margin: 7, fs: 13, tl: 5, lw: 1.3, tw: 1.2 })
  ],
  yAxis: [
    axis({ grid: 0, min: -0.11, max: 1.6, ticks: aYTickValues, lv: aYLabelValues, lt: aYLabelTexts, margin: 14, fs: 21, tl: 10, lw: 1.8, tw: 1.5 }),
    axis({ grid: 1, min: -0.13, max: 3.0, ticks: bYTickValues, lv: bYTickValues, lt: bYTickLabels, margin: 15, fs: 21, tl: 10, lw: 1.8, tw: 1.5 }),
    axis({ grid: 2, min: -0.583, max: 3.0, ticks: iYTickValues, lv: iYLabelValues, lt: iYLabelTexts, margin: 15, fs: 13, tl: 5, lw: 1.3, tw: 1.2 })
  ],
  series: [
    dots(0, aBaseline, 5), dots(0, aRiseRow1, 5), dots(0, aRiseRow2, 5), dots(0, aDetached, 5),
    fitLine(aRedFit, '#ff2a00', 3),
    fitLine(aBlueFit, '#1430d2', 4),
    dots(1, bBaseLow, 6), dots(1, bBaseMid, 6), dots(1, bBaseHigh, 6), dots(1, bBaseLower, 6), dots(1, bBaseCentre, 6), dots(1, bBaseFill, 6),
    dots(1, bSpike1, 5.5), dots(1, bSpike2, 5.5), dots(1, bCurve1, 5.5), dots(1, bCurve2, 5.5),
    dots(1, bCurve3, 5.5), dots(1, bCurve4, 5.5), dots(1, bOutliers, 5.5),
    dots(2, iSpike, 5), dots(2, iBase1, 5), dots(2, iRise, 5), dots(2, iBase2, 5), dots(2, iOutliers, 4)
  ],
  graphic: [
    { type: 'text', x: 12, y: 50, silent: true, style: { text: 'A', font: 'bold 60px ' + FONT, fill: '#000', align: 'left', verticalAlign: 'middle' } },
    { type: 'text', x: 14, y: 534, silent: true, style: { text: 'B', font: 'bold 57px ' + FONT, fill: '#000', align: 'left', verticalAlign: 'middle' } },
    txt(36.5, 199, 'Force (nN)', 'bold 22px ' + FONT, Math.PI / 2),
    txt(384, 451.5, 'Tip-sample distance (nm)', 'bold 22px ' + FONT),
    txt(38.5, 698, 'Force (nN)', 'bold 22px ' + FONT, Math.PI / 2),
    txt(385, 942, 'Tip-sample distance (nm)', 'bold 22px ' + FONT),
    txt(138, 585, 'Force (nN)', 'bold 14px ' + FONT, Math.PI / 2),
    txt(286, 684.5, 'Normalized extension (a.u.)', 'bold 14px ' + FONT)
  ]
});
</script></body></html>
